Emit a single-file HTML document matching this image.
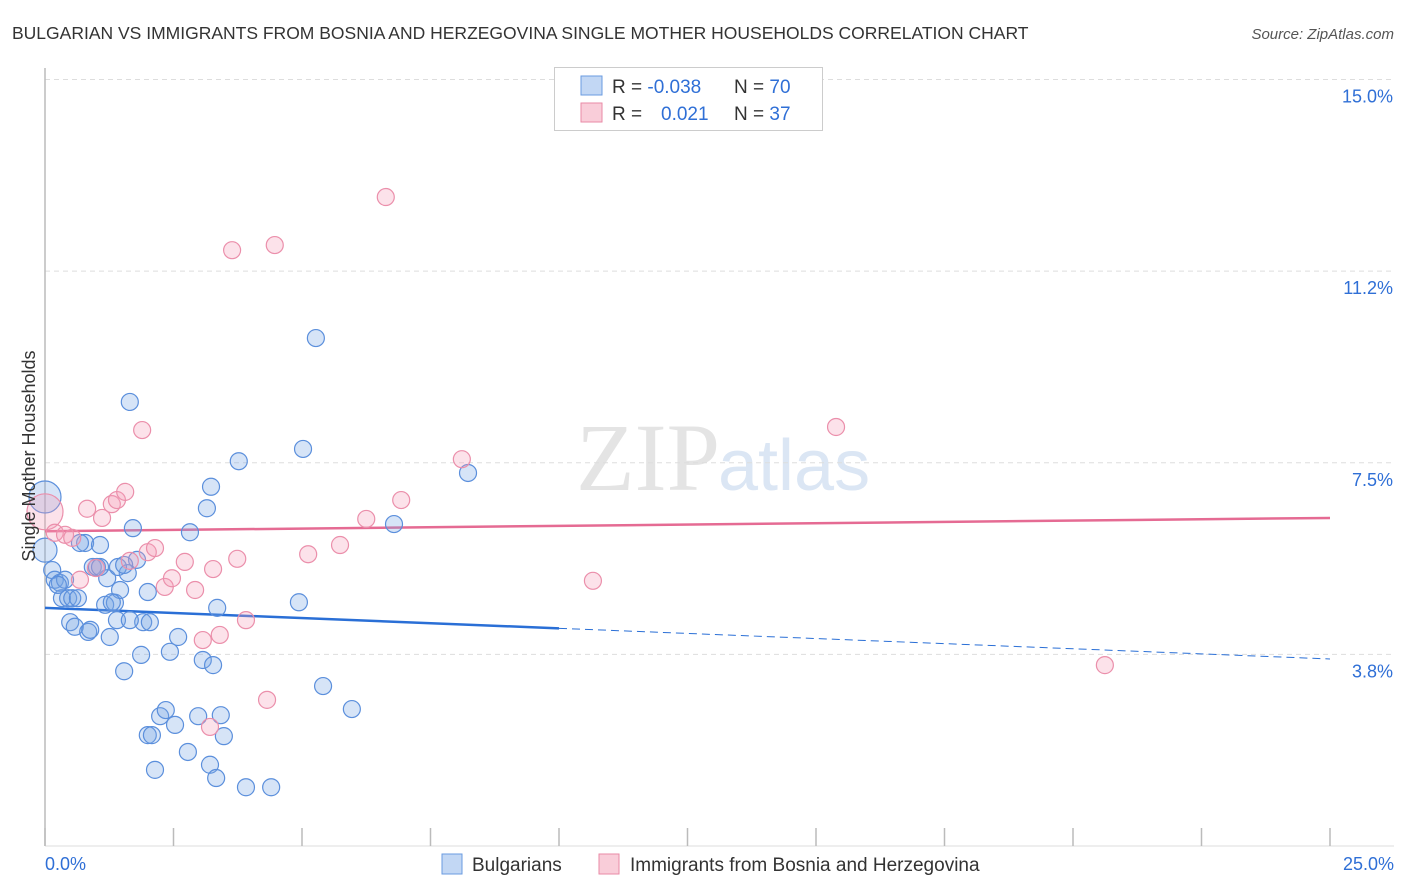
<!DOCTYPE html>
<html><head><meta charset="utf-8"><style>
body{margin:0;background:#fff;font-family:"Liberation Sans",sans-serif;}
svg{display:block}
</style></head><body>
<svg width="1406" height="892">
<text x="12" y="39" font-size="17.5" fill="#333">BULGARIAN VS IMMIGRANTS FROM BOSNIA AND HERZEGOVINA SINGLE MOTHER HOUSEHOLDS CORRELATION CHART</text>
<text x="1394" y="39" font-size="15" fill="#555" font-style="italic" text-anchor="end">Source: ZipAtlas.com</text>
<text x="720" y="490" font-size="96" fill="#e4e4e4" font-family="Liberation Serif,serif" text-anchor="end">ZIP</text>
<text x="718" y="490" font-size="72" fill="#dbe6f4">atlas</text>
<g id="grid"></g><g id="axes"></g><g id="trend"></g><g id="pts"></g>
<text x="35" y="456" font-size="18" fill="#333" text-anchor="middle" transform="rotate(-90 35 456)">Single Mother Households</text>
<g>
<rect x="554.5" y="67.5" width="268" height="63" fill="#fff" stroke="#ccc"/>
<rect x="581" y="76" width="21" height="19" fill="#c2d7f4" stroke="#6a9be0"/>
<rect x="581" y="103" width="21" height="19" fill="#f9cdd9" stroke="#e98aa6"/>
<text x="612" y="93" font-size="19" fill="#333">R = <tspan fill="#2f6fd6">-0.038</tspan></text>
<text x="734" y="93" font-size="19" fill="#333">N = <tspan fill="#2f6fd6">70</tspan></text>
<text x="612" y="120" font-size="19" fill="#333">R = <tspan x="661" fill="#2f6fd6">0.021</tspan></text>
<text x="734" y="120" font-size="19" fill="#333">N = <tspan fill="#2f6fd6">37</tspan></text>
</g>
<g>
<rect x="442" y="854" width="20" height="20" fill="#c2d7f4" stroke="#6a9be0"/>
<text x="472" y="871" font-size="19" fill="#333">Bulgarians</text>
<rect x="599" y="854" width="20" height="20" fill="#f9cdd9" stroke="#e98aa6"/>
<text x="630" y="871" font-size="19" fill="#333">Immigrants from Bosnia and Herzegovina</text>
</g>
</svg>
<script>
const xTicks=[0,2.5,5,7.5,10,12.5,15,17.5,20,22.5,25];
const yTicks=[3.75,7.5,11.25,15];
const yTickLabels=["3.8%","7.5%","11.2%","15.0%"];
const blueX=[0,0,.14,.19,.29,.33,.45,.53,.49,.58,.64,.78,.84,.88,.93,1.01,1.07,1.17,1.21,1.26,1.36,1.40,1.46,1.54,1.61,1.65,1.71,1.79,1.87,1.91,2.00,2.00,2.08,2.14,2.24,2.35,2.43,2.53,2.59,2.78,2.82,2.98,3.07,3.15,3.21,3.23,3.27,3.33,3.35,3.42,3.48,3.77,3.91,4.40,4.94,5.02,5.27,5.41,5.97,6.79,8.23,1.42,1.65,1.07,.39,.68,1.30,2.04,1.54,.25];
const blueY=[6.83,5.79,5.40,5.21,5.15,4.85,4.85,4.85,4.38,4.29,4.85,5.93,4.19,4.23,5.46,5.46,5.89,4.72,5.24,4.09,4.76,4.42,5.01,3.42,5.34,8.69,6.22,5.60,3.74,4.38,4.97,2.17,2.17,1.49,2.54,2.66,3.80,2.37,4.09,1.84,6.14,2.54,3.64,6.61,1.59,7.03,3.54,1.33,4.66,2.56,2.15,7.53,1.15,1.15,4.77,7.77,9.94,3.13,2.68,6.30,7.30,5.46,4.42,5.46,5.21,5.93,4.77,4.38,5.50,5.11];
const blueSize=[16,12];
const pinkX=[0,.19,.39,.53,.68,.82,.99,1.11,1.30,1.40,1.56,1.65,1.89,2.00,2.14,2.33,2.47,2.72,2.92,3.07,3.21,3.27,3.40,3.64,3.74,3.91,4.32,4.47,5.12,5.74,6.25,6.63,6.93,8.11,10.66,15.39,20.62];
const pinkY=[6.54,6.13,6.09,6.03,5.21,6.60,5.44,6.42,6.69,6.77,6.93,5.58,8.14,5.75,5.83,5.07,5.24,5.56,5.01,4.03,2.33,5.42,4.13,11.66,5.62,4.42,2.86,11.76,5.71,5.89,6.40,12.70,6.77,7.57,5.19,8.20,3.54];
const pinkSize=[18];
const blueTrend=[4.66,3.66], blueSolidEnd=10;
const pinkTrend=[6.16,6.42];
const NS="http://www.w3.org/2000/svg";
const X=v=>45+v*51.4, Y=v=>846-v*51.1;
function mk(t,a,p){const e=document.createElementNS(NS,t);for(const k in a)e.setAttribute(k,a[k]);document.getElementById(p).appendChild(e);return e;}
yTicks.forEach((t,i)=>{
 const l=mk('line',{x1:45,x2:1394,y1:Y(t),y2:Y(t),stroke:'#ddd','stroke-dasharray':'5,4'},'grid');
 
 
 const tx=mk('text',{x:1393,y:Y(t)+23,'font-size':18,fill:'#2f6fd6','text-anchor':'end'},'grid');
 tx.textContent=yTickLabels[i];
 
 
});
const ax=mk('line',{x1:45,x2:45,y1:68,y2:846,stroke:'#bbb','stroke-width':1.5},'axes');


const bx=mk('line',{x1:45,x2:1394,y1:846,y2:846,stroke:'#ddd'},'axes');


xTicks.forEach(t=>{
 const l=mk('line',{x1:X(t),x2:X(t),y1:828,y2:846,stroke:'#bbb','stroke-width':1.5},'axes');
 
 
});
[[0,'start',45,'0.0%'],[25,'end',1394,'25.0%']].forEach(d=>{
 const tx=mk('text',{x:d[2],y:870,'font-size':18,fill:'#2f6fd6','text-anchor':d[1]},'axes');
 tx.textContent=d[3];
 
 
});
blueX.forEach((x,i)=>{
 const c=mk('circle',{cx:X(x),cy:Y(blueY[i]),r:blueSize[i]||8.5,fill:'rgba(120,165,230,0.3)',stroke:'#5b8fdc','stroke-width':1.2},'pts');
 
 
});
pinkX.forEach((x,i)=>{
 const c=mk('circle',{cx:X(x),cy:Y(pinkY[i]),r:pinkSize[i]||8.5,fill:'rgba(245,160,185,0.3)',stroke:'#eb8fab','stroke-width':1.2},'pts');
 
 
});
const by=x=>blueTrend[0]+(blueTrend[1]-blueTrend[0])*x/25;
let l1=mk('line',{x1:X(0),y1:Y(by(0)),x2:X(blueSolidEnd),y2:Y(by(blueSolidEnd)),stroke:'#2a6fd6','stroke-width':2.5},'trend');


let l2=mk('line',{x1:X(blueSolidEnd),y1:Y(by(blueSolidEnd)),x2:X(25),y2:Y(by(25)),stroke:'#2a6fd6','stroke-width':1,'stroke-dasharray':'8,5'},'trend');


let l3=mk('line',{x1:X(0),y1:Y(pinkTrend[0]),x2:X(25),y2:Y(pinkTrend[1]),stroke:'#e56b93','stroke-width':2.5},'trend');


</script>
</body></html>
